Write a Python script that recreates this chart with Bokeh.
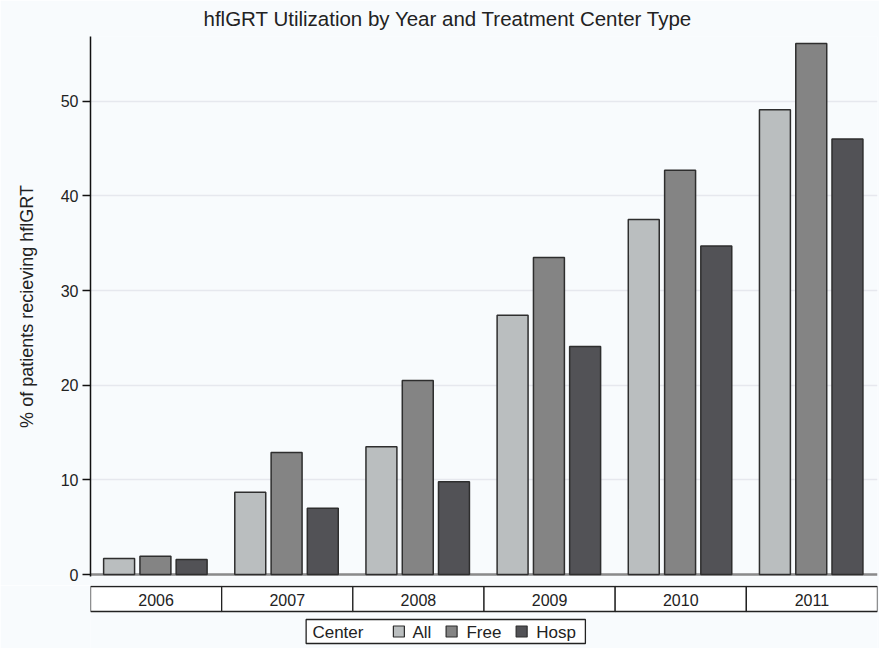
from bokeh.plotting import figure
from bokeh.models import Range1d, ColumnDataSource
from bokeh.layouts import column
from bokeh.core.properties import value
from bokeh.embed import file_html
from bokeh.resources import INLINE

years = ["2006", "2007", "2008", "2009", "2010", "2011"]
centers = ["All", "Free", "Hosp"]
all_vals = [1.7, 8.7, 13.5, 27.4, 37.5, 49.1]
free_vals = [1.95, 12.9, 20.5, 33.5, 42.7, 56.1]
hosp_vals = [1.6, 7.0, 9.8, 24.1, 34.7, 46.0]
y_ticks = [0, 10, 20, 30, 40, 50]

colors = {"All": "#babebf", "Free": "#848484", "Hosp": "#525256"}
offsets = {"All": 0.218, "Free": 0.495, "Hosp": 0.771}
series = {"All": all_vals, "Free": free_vals, "Hosp": hosp_vals}

BG = "#f8fbfd"
FONT = "Liberation Sans"
W = 879

xr = Range1d(0, 6)
p = figure(width=W, height=585, x_range=xr, y_range=Range1d(-0.2, 56.83),
           output_backend="svg", toolbar_location=None,
           min_border_left=90, min_border_right=2, min_border_top=36,
           min_border_bottom=9, x_axis_location=None)
p.background_fill_color = BG
p.border_fill_color = BG
p.outline_line_color = None

p.title.text = "hflGRT Utilization by Year and Treatment Center Type"
p.title.text_font = FONT
p.title.text_font_size = "20.5px"
p.title.text_font_style = "normal"
p.title.text_color = "#222222"
p.title.align = "left"
p.title.offset = 113
p.title.standoff = 10
p.title.text_line_height = 1.0
p.title.padding = 0
p.title.vertical_align = "top"

p.xgrid.visible = False
p.ygrid.grid_line_color = "#e6e8ee"
p.ygrid.grid_line_width = 1.5
p.yaxis.ticker = y_ticks
p.yaxis.axis_label = "% of patients recieving hflGRT"
p.yaxis.axis_label_text_font = FONT
p.yaxis.axis_label_text_font_size = "18px"
p.yaxis.axis_label_text_font_style = "normal"
p.yaxis.axis_label_text_color = "#222222"
p.yaxis.axis_label_standoff = 21
p.yaxis.major_label_text_font = FONT
p.yaxis.major_label_text_font_size = "16px"
p.yaxis.major_label_text_color = "#222222"
p.yaxis.major_label_standoff = 4
p.yaxis.major_tick_out = 8
p.yaxis.major_tick_in = 0
p.yaxis.minor_tick_line_color = None
p.yaxis.axis_line_color = "#111111"
p.yaxis.axis_line_width = 1.5
p.yaxis.major_tick_line_color = "#111111"
p.yaxis.major_tick_line_width = 1.5

# baseline at 0
p.line(x=[0, 6], y=[0, 0], line_color="#8a8a8a", line_width=2.5)

for c in centers:
    src = ColumnDataSource(dict(x=[i + offsets[c] for i in range(len(years))],
                                top=series[c]))
    p.vbar(x="x", top="top", bottom=0, width=0.236, source=src,
           fill_color=colors[c], line_color="#2e2e2e", line_width=1.5)

# lower panel: year category boxes and legend
q = figure(width=W, height=63, x_range=xr, y_range=Range1d(63, 0),
           output_backend="svg", toolbar_location=None,
           min_border_left=90, min_border_right=2, min_border_top=0,
           min_border_bottom=0, x_axis_location=None, y_axis_location=None)
q.background_fill_color = BG
q.border_fill_color = BG
q.outline_line_color = None
q.grid.visible = False

ysrc = ColumnDataSource(dict(x=[i + 0.5 for i in range(len(years))], label=years))
q.rect(x="x", y=13.5, width=1, height=25, source=ysrc,
       fill_color="white", line_color="#222222", line_width=1.3)
q.text(x="x", y=14, text="label", source=ysrc, text_align="center",
       text_baseline="middle", text_font=value(FONT), text_font_size="16px",
       text_color="#222222")

# legend
q.quad(left=1.644, right=3.773, top=34, bottom=58, fill_color="white",
       line_color="#222222", line_width=1.3)
q.text(x=[1.692], y=[46.5], text=["Center"], text_align="left",
       text_baseline="middle", text_font=value(FONT), text_font_size="17px",
       text_color="#222222")
leg_sq = {"All": 2.351, "Free": 2.753, "Hosp": 3.287}
leg_tx = {"All": 2.454, "Free": 2.866, "Hosp": 3.399}
for c in centers:
    q.rect(x=[leg_sq[c]], y=[46], width=11, height=11, width_units="screen",
           height_units="screen", fill_color=colors[c], line_color="#2e2e2e",
           line_width=1.2)
    q.text(x=[leg_tx[c]], y=[46.5], text=[c], text_align="left",
           text_baseline="middle", text_font=value(FONT), text_font_size="17px",
           text_color="#222222")

layout = column(p, q, spacing=0)
html = file_html(layout, INLINE)
html = html.replace("<body>", '<body style="background:%s">' % BG, 1)
open("out.html", "w").write(html)
